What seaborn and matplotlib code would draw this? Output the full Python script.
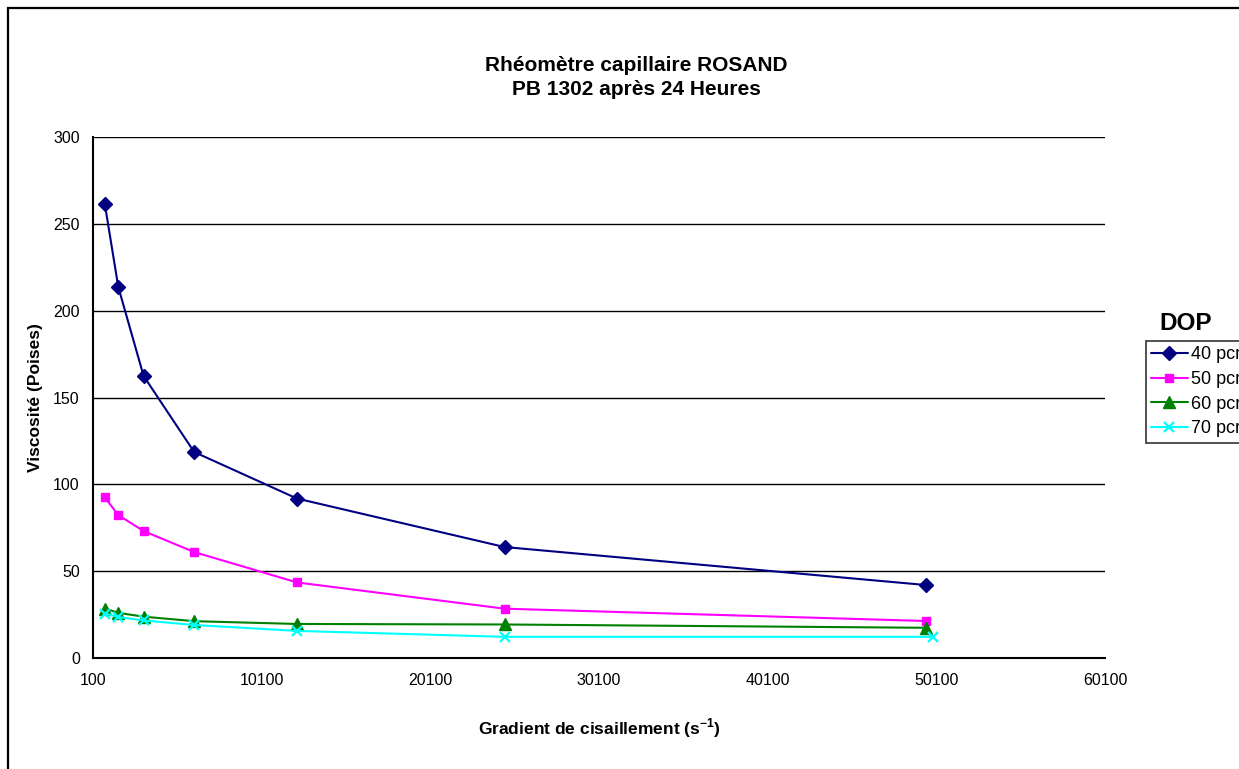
import matplotlib
matplotlib.use("Agg")
import matplotlib.pyplot as plt
import seaborn as sns
import pandas as pd
from matplotlib.patches import Rectangle

# data
gradient = [800, 1600, 3100, 6100, 12200, 24500, 49500]
gradient_70 = [800, 1600, 3100, 6100, 12200, 24500, 49900]
visc_40 = [261.4, 213.6, 162.4, 118.6, 91.8, 63.9, 42.0]
visc_50 = [92.5, 82.3, 73.1, 61.0, 43.5, 28.4, 21.3]
visc_60 = [28.5, 26.0, 23.8, 21.2, 19.6, 19.3, 17.4]
visc_70 = [25.6, 23.6, 21.6, 19.0, 15.6, 12.2, 12.2]
series_names = ["40 pcr", "50 pcr", "60 pcr", "70 pcr"]
x_ticks = [100, 10100, 20100, 30100, 40100, 50100, 60100]
y_ticks = [0, 50, 100, 150, 200, 250, 300]

sns.set_style("white")
plt.rcParams["font.family"] = ["Liberation Sans", "DejaVu Sans"]
plt.rcParams["mathtext.fontset"] = "custom"
plt.rcParams["mathtext.rm"] = "Liberation Sans"
plt.rcParams["mathtext.bf"] = "Liberation Sans:bold"
plt.rcParams["text.color"] = "black"
plt.rcParams["axes.labelcolor"] = "black"
plt.rcParams["xtick.color"] = "black"
plt.rcParams["ytick.color"] = "black"

fig = plt.figure(figsize=(12.39, 7.69), dpi=100)
ax = fig.add_axes([93 / 1239, 1 - 658 / 769, 1012 / 1239, 521 / 769])

# outer chart border (runs off the right / bottom edge)
fig.patches.append(Rectangle((8 / 1239, -0.2), 1.2, 1.2 - 8 / 769,
                             transform=fig.transFigure, fill=False,
                             edgecolor="black", linewidth=1.6))

styles = [
    ("#000080", "D", 7, 1.0),
    ("#FF00FF", "s", 5.5, 1.0),
    ("#008000", "^", 8, 1.0),
    ("#00FFFF", "x", 7, 1.6),
]
xs = [gradient, gradient, gradient, gradient_70]
ys = [visc_40, visc_50, visc_60, visc_70]

for name, x, y, (col, mk, ms, mew) in zip(series_names, xs, ys, styles):
    df = pd.DataFrame({"x": x, "y": y})
    sns.lineplot(data=df, x="x", y="y", ax=ax, color=col, marker=mk,
                 markersize=ms, markeredgecolor=col, markerfacecolor=col,
                 markeredgewidth=mew, linewidth=1.5, label=name,
                 errorbar=None, legend=False)

ax.set_xlim(100, 60100)
ax.set_ylim(0, 300)
ax.set_xticks(x_ticks)
ax.set_yticks(y_ticks)
ax.set_xticklabels([str(t) for t in x_ticks], fontsize=11.5)
ax.set_yticklabels([str(t) for t in y_ticks], fontsize=11.5)
ax.tick_params(axis="x", direction="out", length=4, width=1.2, pad=7)
ax.tick_params(axis="y", direction="inout", length=5, width=1.2, pad=7)
ax.yaxis.grid(True, color="black", linewidth=1.0)
ax.xaxis.grid(False)
ax.set_axisbelow(True)

for s in ["top", "right"]:
    ax.spines[s].set_visible(False)
for s in ["left", "bottom"]:
    ax.spines[s].set_color("black")
    ax.spines[s].set_linewidth(1.5)

ax.set_xlabel(r"Gradient de cisaillement (s$^{\mathbf{-1}}$)", fontsize=12.5, fontweight="bold")
ax.set_ylabel("Viscosité (Poises)", fontsize=12.5, fontweight="bold")
ax.xaxis.set_label_coords(0.5, -0.134)
ax.xaxis.label.set_verticalalignment("center")
ax.yaxis.set_label_coords(-0.057, 0.5)
ax.yaxis.label.set_verticalalignment("center")

fig.text(636 / 1239, 1 - 77.5 / 769, "Rhéomètre capillaire ROSAND\nPB 1302 après 24 Heures",
         ha="center", va="center", fontsize=15, fontweight="bold", linespacing=1.35)

fig.text(1186 / 1239, 1 - 323 / 769, "DOP", ha="center", va="center",
         fontsize=17.5, fontweight="bold")

handles, labels = ax.get_legend_handles_labels()
leg = ax.legend(handles, labels, loc="upper left",
                bbox_to_anchor=(1146 / 1239, 1 - 341 / 769),
                bbox_transform=fig.transFigure, borderaxespad=0,
                frameon=True, fancybox=False, edgecolor="black",
                fontsize=13, handlelength=2.0, handletextpad=0.2,
                labelspacing=0.42, borderpad=0.3)
leg.get_frame().set_linewidth(1.2)

fig.savefig("out.png", dpi=100)
